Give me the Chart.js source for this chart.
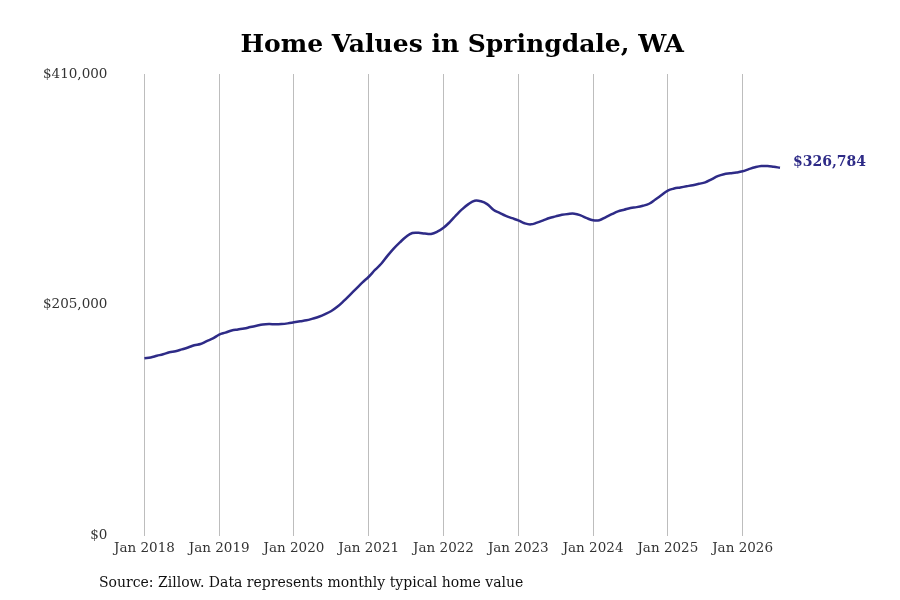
<!DOCTYPE html>
<html>
<head>
<meta charset="utf-8">
<script src="https://cdn.jsdelivr.net/npm/chart.js@4"></script>
<style>
  html, body { margin: 0; padding: 0; background: #fff; }
  #wrap { width: 900px; height: 600px; position: relative; }
</style>
</head>
<body>
<div id="wrap"><canvas id="homeChart"></canvas></div>
<script>
  // months Jan 2018 .. Jul 2026
  const months = [
    '2018-01','2018-02','2018-03','2018-04','2018-05','2018-06','2018-07','2018-08','2018-09','2018-10','2018-11','2018-12',
    '2019-01','2019-02','2019-03','2019-04','2019-05','2019-06','2019-07','2019-08','2019-09','2019-10','2019-11','2019-12',
    '2020-01','2020-02','2020-03','2020-04','2020-05','2020-06','2020-07','2020-08','2020-09','2020-10','2020-11','2020-12',
    '2021-01','2021-02','2021-03','2021-04','2021-05','2021-06','2021-07','2021-08','2021-09','2021-10','2021-11','2021-12',
    '2022-01','2022-02','2022-03','2022-04','2022-05','2022-06','2022-07','2022-08','2022-09','2022-10','2022-11','2022-12',
    '2023-01','2023-02','2023-03','2023-04','2023-05','2023-06','2023-07','2023-08','2023-09','2023-10','2023-11','2023-12',
    '2024-01','2024-02','2024-03','2024-04','2024-05','2024-06','2024-07','2024-08','2024-09','2024-10','2024-11','2024-12',
    '2025-01','2025-02','2025-03','2025-04','2025-05','2025-06','2025-07','2025-08','2025-09','2025-10','2025-11','2025-12',
    '2026-01','2026-02','2026-03','2026-04','2026-05','2026-06','2026-07'
  ];

  const homeValues = [
    157700, 158300, 159800, 161200, 162900, 163900, 165500, 167200, 169200, 170300, 172800, 175200,
    178600, 180400, 182300, 183200, 184000, 185300, 186500, 187600, 188000, 187800, 188000, 188600,
    189500, 190400, 191300, 192800, 194500, 196800, 199600, 203500, 208500, 214000, 219500, 225000,
    230000, 236000, 241500, 248500, 255000, 260500, 265500, 268800, 269000, 268300, 268000, 270000,
    273500, 278500, 284500, 290000, 294500, 297500, 297000, 294500, 289500, 286700, 284000, 282000,
    280000, 277500, 276500, 278000, 280000, 282200, 283600, 285000, 285800, 286000, 284500, 282000,
    280200, 280200, 282800, 285500, 288000, 289500, 291000, 291800, 293000, 294800, 298500, 302500,
    306500, 308300, 309300, 310300, 311300, 312500, 313800, 316500, 319300, 321000, 321800, 322500,
    323600, 325500, 327200, 328300, 328300, 327600, 326784
  ];

  const yTicks = [0, 205000, 410000];
  const monthNames = ['Jan','Feb','Mar','Apr','May','Jun','Jul','Aug','Sep','Oct','Nov','Dec'];

  const navy = '#2e2b87';
  const serif = "'DejaVu Serif', serif";

  const fmtMoney = v => '$' + Math.round(v).toLocaleString('en-US');

  // end label + source note
  const extras = {
    id: 'extras',
    afterDraw(chart) {
      const ctx = chart.ctx;
      const meta = chart.getDatasetMeta(0);
      const last = meta.data[meta.data.length - 1];
      ctx.save();
      ctx.font = 'bold 14px ' + serif;
      ctx.fillStyle = navy;
      ctx.textBaseline = 'middle';
      ctx.textAlign = 'left';
      ctx.fillText(fmtMoney(homeValues[homeValues.length - 1]), last.x + 13, last.y - 5);

      ctx.font = '14px ' + serif;
      ctx.fillStyle = '#111';
      ctx.textBaseline = 'alphabetic';
      ctx.fillText('Source: Zillow. Data represents monthly typical home value', 99, 587);
      ctx.restore();
    }
  };

  new Chart(document.getElementById('homeChart'), {
    type: 'line',
    data: {
      labels: months,
      datasets: [{
        data: homeValues,
        borderColor: navy,
        borderWidth: 2.5,
        pointRadius: 0,
        tension: 0.4,
        fill: false
      }]
    },
    options: {
      responsive: true,
      maintainAspectRatio: false,
      animation: false,
      layout: { padding: { left: 6, right: 120, top: 30, bottom: 38 } },
      plugins: {
        legend: { display: false },
        tooltip: { enabled: false },
        title: {
          display: true,
          fullSize: false,
          text: 'Home Values in Springdale, WA',
          color: '#000',
          font: { family: serif, size: 25, weight: 'bold' },
          padding: { top: 0, bottom: 14 }
        }
      },
      scales: {
        x: {
          grid: {
            drawTicks: false,
            color: ctx => (ctx.tick && ctx.index % 12 === 0) ? '#bdbdbd' : 'rgba(0,0,0,0)'
          },
          border: { display: false },
          ticks: {
            autoSkip: false,
            maxRotation: 0,
            padding: 5,
            color: '#333',
            font: { family: serif, size: 13.5 },
            callback: function (val, i) {
              const m = months[i];
              if (!m || !m.endsWith('-01')) return '';
              return monthNames[0] + ' ' + m.slice(0, 4);
            }
          }
        },
        y: {
          min: 0,
          max: 410000,
          afterBuildTicks: axis => { axis.ticks = yTicks.map(v => ({ value: v })); },
          grid: { display: false, drawTicks: false },
          border: { display: false },
          ticks: {
            padding: 37,
            color: '#333',
            font: { family: serif, size: 13.5 },
            callback: v => fmtMoney(v)
          }
        }
      }
    },
    plugins: [extras]
  });
</script>
</body>
</html>
